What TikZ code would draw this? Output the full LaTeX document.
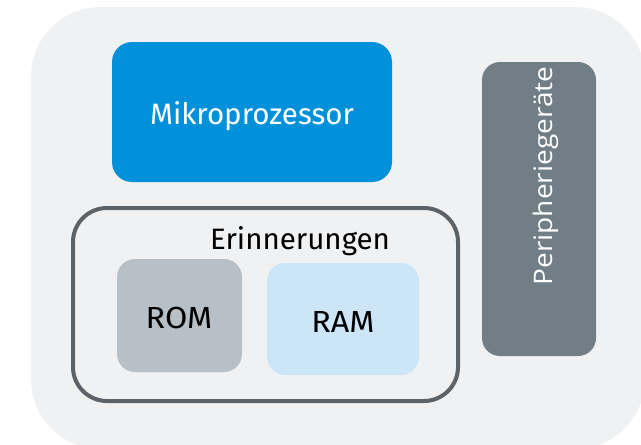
\documentclass[tikz,border=0pt]{standalone}
\usepackage{fontspec}
\setmainfont{Fira Sans}
\newfontfamily\periphfont{Open Sans}[FakeStretch=1.1]
\newfontfamily\capsfont{Fira Sans}[FakeStretch=1.06]
\definecolor{panel}{HTML}{F0F1F3}
\definecolor{cpublue}{HTML}{0091DA}
\definecolor{memline}{HTML}{5B6268}
\definecolor{romgray}{HTML}{B7BFC7}
\definecolor{ramblue}{HTML}{CCE6F8}
\definecolor{periph}{HTML}{717E86}
\tikzset{
  label/.style={inner sep=0pt, anchor=base}
}
\begin{document}
\begin{tikzpicture}[x=1pt, y=-1pt]
  \useasboundingbox (0,0) rectangle (641,445);
  \fill[white] (0,0) rectangle (641,445);
  % system panel, cut off at the right and bottom edges
  \begin{scope}
    \clip (0,0) rectangle (641,445);
    \fill[panel, rounded corners=70pt] (31,7) rectangle (645,449);
  \end{scope}
  % processor
  \fill[cpublue, rounded corners=20pt] (112,42) rectangle (392,182);
  \node[label, text=white, font=\fontsize{29.5}{34}\selectfont] (cpu) at (252,124) {Mikroprozessor};
  % memory group
  \draw[memline, line width=4pt, fill=panel, rounded corners=34pt] (73,208) rectangle (458,401);
  \node[label, text=black, font=\fontsize{29.5}{34}\selectfont] (mem) at (300,249) {Erinnerungen};
  \fill[romgray, rounded corners=18pt] (117,259) rectangle (242,372);
  \node[label, text=black, font=\capsfont\fontsize{30.5}{34}\selectfont] (rom) at (179,328) {ROM};
  \fill[ramblue, rounded corners=18pt] (267,263) rectangle (419,375);
  \node[label, text=black, font=\capsfont\fontsize{30.5}{34}\selectfont] (ram) at (343,332) {RAM};
  % peripherals
  \fill[periph, rounded corners=18pt] (482,62) rectangle (596,356);
  \node[label, text=white, rotate=90, font=\periphfont\fontsize{25.5}{30}\selectfont] (per) at (552,176) {Peripheriegeräte};
\end{tikzpicture}
\end{document}
